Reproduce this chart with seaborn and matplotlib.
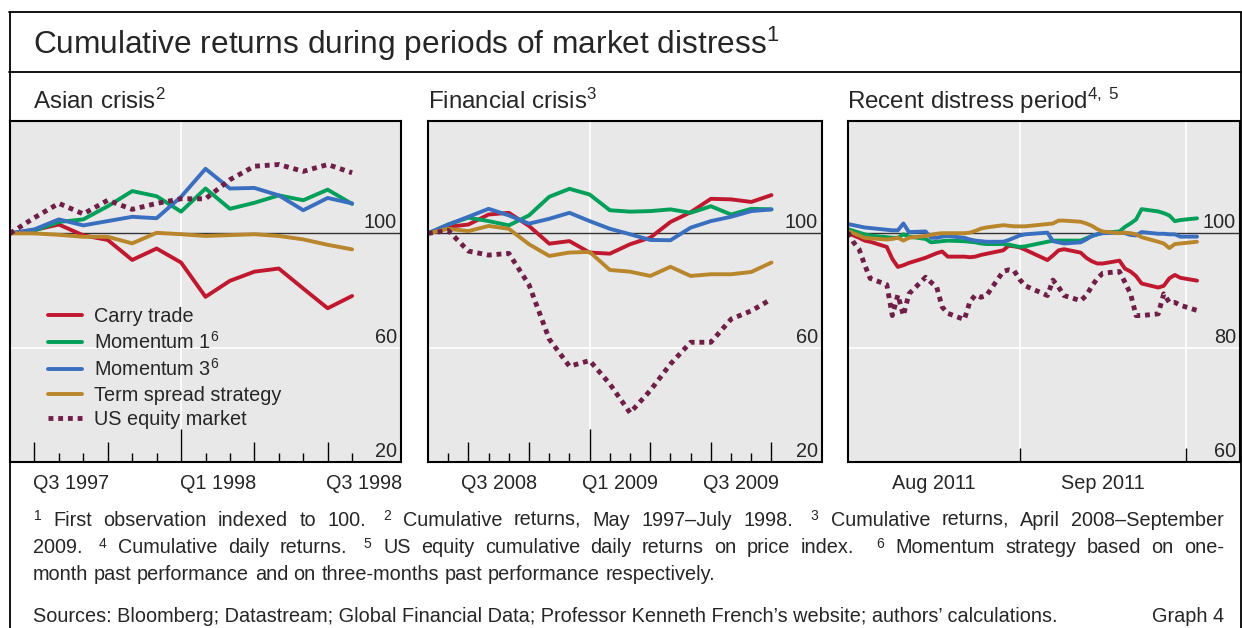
import re
import numpy as np
import pandas as pd
import matplotlib
matplotlib.use("Agg")
import matplotlib.pyplot as plt
from matplotlib.colors import same_color
from matplotlib.transforms import offset_copy
import seaborn as sns

# ── Style ──
sns.set_style("white")
plt.rcParams["font.family"] = ["Liberation Sans", "DejaVu Sans"]
plt.rcParams["mathtext.fontset"] = "custom"
plt.rcParams["mathtext.rm"] = "Liberation Sans"
plt.rcParams["mathtext.it"] = "Liberation Sans:italic"
plt.rcParams["mathtext.bf"] = "Liberation Sans:bold"

W, H = 1242, 628
FS = 14.3
BG = "#e8e8e8"

SERIES = ["Carry trade", "Momentum 1", "Momentum 3", "Term spread strategy", "US equity market"]
LEGEND_LABELS = ["Carry trade", "Momentum 1$^{6}$", "Momentum 3$^{6}$",
                 "Term spread strategy", "US equity market"]
COLORS = dict(zip(SERIES, ["#c0182f", "#00a05a", "#3a6fbf", "#b9862b", "#6f1e48"]))
DASHES = {s: "" for s in SERIES}
DASHES["US equity market"] = (1.0, 1.0)
SIZES = {s: 2.8 for s in SERIES}
SIZES["US equity market"] = 3.5

# ── Data: Asian crisis, month-end May 1997 - Jul 1998 ──
asia_carry = [100, 101.2, 103.1, 99.3, 97.7, 90.7, 94.7, 89.8, 77.8, 83.4, 86.6, 87.7, 80.7, 73.8, 78.1]
asia_mom1 = [100, 101.0, 104.0, 104.9, 109.5, 114.8, 113.0, 107.6, 115.7, 108.6, 110.7, 113.3, 111.6, 115.3, 110.3]
asia_mom3 = [100, 101.4, 104.9, 102.8, 104.3, 105.8, 105.3, 112.8, 122.6, 115.7, 115.9, 113.3, 108.1, 112.4, 110.5]
asia_term = [100, 100.0, 99.5, 98.8, 98.8, 96.5, 100.2, 99.7, 99.1, 99.4, 99.7, 99.1, 97.9, 96.0, 94.4]
asia_us = [100, 105.5, 110.5, 106.8, 111.6, 108.4, 110.5, 112.1, 112.1, 118.8, 123.5, 124.1, 121.7, 124.1, 121.2]

# ── Data: Financial crisis, month-end Apr 2008 - Sep 2009 ──
fin_carry = [100, 102.3, 103.1, 106.6, 107.2, 102.6, 96.4, 97.3, 93.3, 92.9, 96.2, 98.5, 104.0, 107.4, 112.1, 111.9, 111.0, 113.4]
fin_mom1 = [100, 103.1, 105.5, 104.3, 102.8, 106.3, 112.8, 115.6, 113.6, 108.1, 107.6, 107.8, 108.4, 107.2, 109.5, 106.6, 108.6, 108.4]
fin_mom3 = [100, 103.1, 105.8, 108.6, 106.3, 103.4, 105.1, 107.2, 104.3, 101.6, 99.7, 97.7, 97.6, 102.0, 104.3, 105.8, 107.8, 108.4]
fin_term = [100, 101.6, 100.8, 102.6, 101.6, 96.2, 92.1, 93.3, 93.5, 87.2, 86.6, 85.1, 88.3, 85.1, 85.7, 85.7, 86.5, 89.8]
fin_us = [100, 101.0, 93.8, 92.4, 93.0, 82.0, 63.0, 53.5, 55.5, 47.3, 37.2, 45.0, 54.3, 61.9, 61.9, 70.0, 72.9, 77.0]

# ── Data: Recent distress period, daily Aug - early Oct 2011 ──
recent_dates = pd.bdate_range("2011-08-01", "2011-10-03").drop(pd.Timestamp("2011-09-05"))
recent_carry = [100.1, 99.6, 99.2, 98.7, 98.5, 97.6, 95.5, 94.1, 94.4, 94.8,
                95.7, 96.1, 96.5, 96.8, 95.9, 95.9, 95.8, 95.9, 96.2, 96.4,
                97.0, 97.8, 97.7, 97.5, 97.1, 95.3, 96.1, 97.0, 97.2, 96.6,
                95.7, 95.1, 94.7, 94.7, 95.2, 93.8, 93.3, 92.5, 91.2, 90.5,
                90.8, 92.1, 92.7, 92.2, 91.7]
recent_mom1 = [100.7, 100.4, 100.1, 99.8, 99.6, 99.3, 99.2, 99.2, 99.8, 99.4,
               99.0, 98.4, 98.5, 98.6, 98.7, 98.6, 98.5, 98.4, 98.2, 98.1,
               98.1, 98.0, 97.8, 97.6, 97.7, 98.5, 98.7, 98.7, 98.7, 98.7,
               99.1, 99.5, 99.8, 100.1, 100.3, 101.1, 101.7, 102.4, 104.2, 103.8,
               103.5, 103.1, 102.1, 102.3, 102.6]
recent_mom3 = [101.6, 101.4, 101.2, 101.0, 100.9, 100.6, 100.5, 100.5, 101.7, 100.2,
               100.3, 99.2, 99.2, 99.4, 99.5, 99.2, 98.9, 98.7, 98.6, 98.5,
               98.5, 98.8, 99.2, 99.6, 99.8, 100.1, 98.6, 98.4, 98.2, 98.4,
               98.9, 99.5, 99.8, 100.0, 100.1, 100.0, 99.7, 99.6, 100.2, 99.9,
               99.9, 99.8, 99.8, 99.4, 99.4]
recent_term = [100.4, 100.0, 99.6, 99.2, 99.1, 98.9, 99.0, 99.2, 98.7, 99.2,
               99.5, 99.7, 99.9, 100.0, 100.0, 100.0, 100.1, 100.4, 100.8, 101.0,
               101.4, 101.3, 101.2, 101.2, 101.2, 101.6, 101.7, 102.2, 102.2, 102.0,
               101.7, 101.3, 100.7, 100.3, 100.0, 100.1, 100.0, 99.8, 99.3, 98.5,
               98.2, 97.4, 98.1, 98.2, 98.5]
recent_us = [100.1, 98.4, 97.2, 94.5, 92.1, 91.0, 85.6, 89.2, 85.6, 89.4,
             92.3, 91.4, 90.6, 87.1, 86.0, 84.9, 88.0, 89.2, 88.8, 89.1,
             93.3, 93.6, 93.4, 91.9, 90.8, 89.1, 91.8, 90.6, 89.1, 88.2,
             89.1, 90.7, 92.1, 93.0, 93.3, 91.4, 89.4, 85.6, 85.6, 85.9,
             89.4, 87.9, 87.9, 87.4, 86.5]

# ── Axis annotations ──
asia_ticks = list(range(1, 15))
asia_quarters, asia_years = [1, 4, 10, 13], [7]
asia_label_pos = [2.5, 8.5, 14.5]
asia_labels = ["Q3 1997", "Q1 1998", "Q3 1998"]

fin_ticks = list(range(1, 18))
fin_quarters, fin_years = [2, 5, 11, 14, 17], [8]
fin_label_pos = [3.5, 9.5, 15.5]
fin_labels = ["Q3 2008", "Q1 2009", "Q3 2009"]

recent_ticks = pd.to_datetime(["2011-09-01", "2011-10-01"])
recent_label_pos = pd.to_datetime(["2011-08-16 12:00", "2011-09-16 00:00"])
recent_labels = ["Aug 2011", "Sep 2011"]

# ── Figure ──
fig = plt.figure(figsize=(W / 100, H / 100), dpi=100)
renderer = fig.canvas.get_renderer()


def px_axes(x0, y0, x1, y1):
    return fig.add_axes([x0 / W, 1 - y1 / H, (x1 - x0) / W, (y1 - y0) / H])


def draw_panel(ax, x, values, xlim, ylim, yticks, grid_y, grid_x):
    df = pd.DataFrame({"x": x, **dict(zip(SERIES, values))})
    df = df.melt("x", var_name="series", value_name="value")
    sns.lineplot(data=df, x="x", y="value", hue="series", style="series", size="series",
                 hue_order=SERIES, style_order=SERIES, size_order=SERIES,
                 palette=COLORS, dashes=DASHES, sizes=SIZES, estimator=None,
                 legend=False, ax=ax)
    ax.set_axisbelow(False)
    ax.set_facecolor(BG)
    ax.set_xlim(*xlim)
    ax.set_ylim(*ylim)
    ax.set_xlabel("")
    ax.set_ylabel("")
    ax.set_yticks([])
    for s in ax.spines.values():
        s.set_color("black")
        s.set_linewidth(1.5)
    ax.axhline(grid_y, color="white", lw=1.2, zorder=1)
    for gx in grid_x:
        ax.axvline(gx, color="white", lw=1.2, zorder=1)
    ax.axhline(100, color="#333333", lw=1.0, zorder=1.5)
    tr = offset_copy(ax.get_yaxis_transform(), fig=fig, x=-4, y=1, units="dots")
    for v in yticks:
        ax.text(1, v, str(v), transform=tr, ha="right", va="bottom", fontsize=FS)


def set_xticks(ax, pos, lengths, label_pos, labels):
    ax.set_xticks(pos)
    ax.tick_params(axis="x", which="major", direction="in", bottom=True, top=False,
                   width=1.0, color="black", labelbottom=False)
    ax.set_xticks(label_pos, minor=True)
    ax.set_xticklabels(labels, minor=True)
    ax.tick_params(axis="x", which="minor", length=0, pad=8.5, labelsize=FS,
                   bottom=True, labelbottom=True)
    for t, ln in zip(ax.xaxis.get_major_ticks(), lengths):
        t.tick1line.set_markersize(ln)


def tick_lengths(pos, quarters, years):
    return [24 if p in years else 14.4 if p in quarters else 6.5 for p in pos]


# Panel 1
ax1 = px_axes(10, 120.5, 401, 462)
draw_panel(ax1, range(len(asia_carry)),
           [asia_carry, asia_mom1, asia_mom3, asia_term, asia_us],
           (0, 16), (20, 139.5), [20, 60, 100], 60, [7])
set_xticks(ax1, asia_ticks, tick_lengths(asia_ticks, asia_quarters, asia_years),
           asia_label_pos, asia_labels)

handles = []
for s in SERIES:
    for ln in ax1.get_lines():
        if same_color(ln.get_color(), COLORS[s]):
            handles.append(ln)
            break
ax1.legend(handles, LEGEND_LABELS, loc="upper left", bbox_to_anchor=(0.097, 0.455),
           frameon=False, fontsize=FS, handlelength=1.71, handletextpad=0.6,
           labelspacing=0.27, borderpad=0, borderaxespad=0)

# Panel 2
ax2 = px_axes(428, 120.5, 822, 462)
draw_panel(ax2, range(len(fin_carry)),
           [fin_carry, fin_mom1, fin_mom3, fin_term, fin_us],
           (0, 19.5), (20, 139.5), [20, 60, 100], 60, [8])
set_xticks(ax2, fin_ticks, tick_lengths(fin_ticks, fin_quarters, fin_years),
           fin_label_pos, fin_labels)

# Panel 3
ax3 = px_axes(848, 120.5, 1240, 462)
start = recent_dates[0]
draw_panel(ax3, recent_dates,
           [recent_carry, recent_mom1, recent_mom3, recent_term, recent_us],
           (start, start + pd.Timedelta(days=70.76)), (60, 119.7), [60, 80, 100], 80,
           list(recent_ticks))
set_xticks(ax3, recent_ticks, [10, 10], recent_label_pos, recent_labels)

# ── Frame and titles ──
def hline(y, x0=9, x1=1240.5):
    fig.add_artist(plt.Line2D([x0 / W, x1 / W], [1 - y / H, 1 - y / H],
                              transform=fig.transFigure, color="black", lw=1.3))


def vline(x, y0=12, y1=628):
    fig.add_artist(plt.Line2D([x / W, x / W], [1 - y0 / H, 1 - y1 / H],
                              transform=fig.transFigure, color="black", lw=1.3))


hline(12)
hline(72)
vline(9.5)
vline(1240.5)

fig.text(33 / W, 1 - 54 / H, "Cumulative returns during periods of market distress$^{1}$",
         fontsize=22.8, va="baseline")
for x, t in [(33, "Asian crisis$^{2}$"), (428, "Financial crisis$^{3}$"),
             (847, "Recent distress period$^{4,\\ 5}$")]:
    fig.text(x / W, 1 - 108.5 / H, t, fontsize=17.4, va="baseline")

# ── Footnotes ──
notes = [
    ("$^{1}$ First observation indexed to 100.  $^{2}$ Cumulative returns, May 1997–July 1998.  "
     "$^{3}$ Cumulative returns, April 2008–September", 526, True),
    ("2009.  $^{4}$ Cumulative daily returns.  $^{5}$ US equity cumulative daily returns on price "
     "index.   $^{6}$ Momentum strategy based on one-", 553, True),
    ("month past performance and on three-months past performance respectively.", 580, False),
]


def put_line(line, y, x0, x1, justify):
    parts = re.split(r"( +)", line)
    words, gaps = parts[0::2], parts[1::2]
    arts = [fig.text(0, 1 - y / H, w, fontsize=FS, va="baseline") for w in words]
    widths = [a.get_window_extent(renderer).width for a in arts]
    space = FS * 100 / 72 * 0.278
    base = [len(g) * space for g in gaps]
    extra = (x1 - x0 - sum(widths) - sum(base)) / len(gaps) if justify else 0
    x = x0
    for i, a in enumerate(arts):
        a.set_x(x / W)
        if i < len(gaps):
            x += widths[i] + base[i] + extra


for line, y, just in notes:
    put_line(line, y, 33, 1224, just)

fig.text(33 / W, 1 - 622 / H,
         "Sources: Bloomberg; Datastream; Global Financial Data; Professor Kenneth French’s "
         "website; authors’ calculations.", fontsize=FS, va="baseline")
fig.text(1224 / W, 1 - 622 / H, "Graph 4", fontsize=FS, va="baseline", ha="right")

fig.savefig("out.png", dpi=100)
